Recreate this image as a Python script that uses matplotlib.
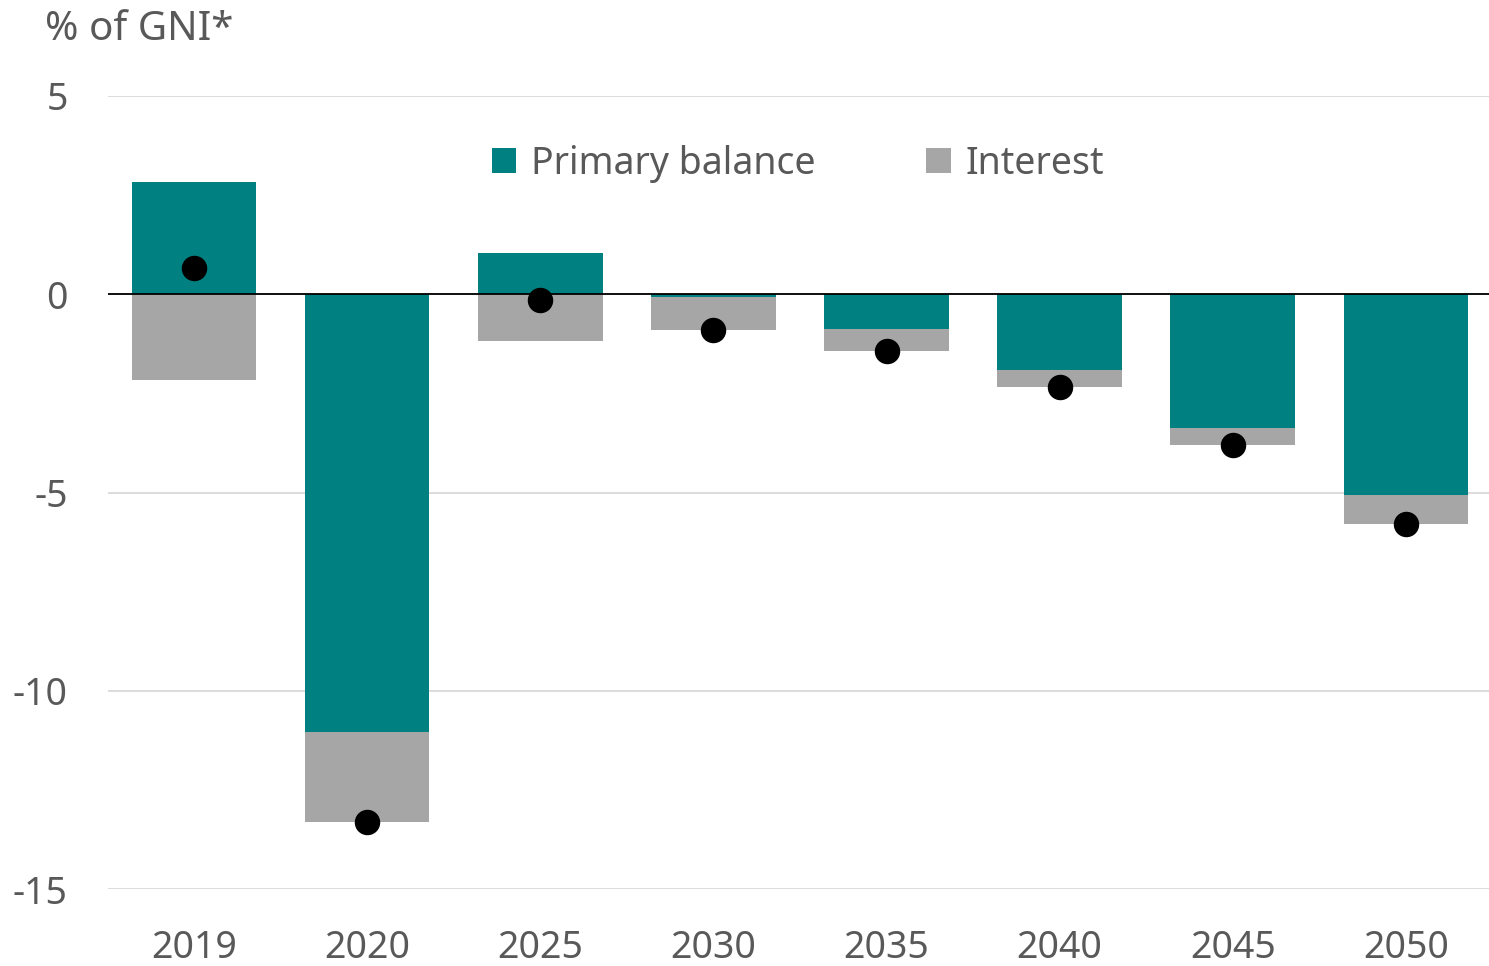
import matplotlib.pyplot as plt
import numpy as np

# values (% of GNI*)
years = ['2019', '2020', '2025', '2030', '2035', '2040', '2045', '2050']
primary_balance = [2.82, -11.03, 1.03, -0.08, -0.88, -1.91, -3.38, -5.06]
interest = [-2.17, -2.27, -1.18, -0.83, -0.56, -0.43, -0.42, -0.73]
overall_balance = [0.65, -13.30, -0.15, -0.91, -1.44, -2.34, -3.80, -5.79]

teal = '#008080'
grey = '#a6a6a6'
text_col = '#595959'

plt.rcParams['font.family'] = ['Noto Sans', 'DejaVu Sans']

fig = plt.figure(figsize=(14.89, 9.66), dpi=100)
ax = fig.add_axes([108 / 1489, 1 - 889 / 966, 1 - 108 / 1489, (889 - 96) / 966])

x = np.arange(len(years))
pb = np.array(primary_balance)
it = np.array(interest)
# interest stacks under the primary bar if it is negative, otherwise under zero
it_base = np.where(pb < 0, pb, 0)

ax.bar(x, pb, width=0.72, color=teal, label='Primary balance', zorder=2)
ax.bar(x, it, bottom=it_base, width=0.72, color=grey, label='Interest', zorder=2)
ax.scatter(x, overall_balance, s=300, color='black', zorder=4)

ax.axhline(0, color='black', linewidth=1.3, zorder=3)

ax.set_ylim(-15, 5)
ax.set_xlim(-0.497, 7.48)
ax.set_yticks([5, 0, -5, -10, -15])
ax.set_yticklabels(['5', '0', '-5', '-10', '-15'])
ax.set_xticks(x)
ax.set_xticklabels(years)
ax.grid(axis='y', color='#d9d9d9', linewidth=1.3, zorder=0)
ax.set_axisbelow(True)
for s in ax.spines.values():
    s.set_visible(False)
ax.tick_params(axis='both', length=0, labelsize=27, colors=text_col)
ax.tick_params(axis='y', pad=29)
ax.tick_params(axis='x', pad=29)

fig.text(45 / 1489, 1 - 30 / 966, '% of GNI*', fontsize=29, color=text_col,
         ha='left', va='center')

leg = ax.legend(loc='center', bbox_to_anchor=(798 / 1489, 1 - 164 / 966),
                bbox_transform=fig.transFigure, ncol=2, frameon=False,
                fontsize=27, handlelength=0.65, handleheight=0.65,
                handletextpad=0.4, columnspacing=2.95, borderaxespad=0)
for t in leg.get_texts():
    t.set_color(text_col)

plt.savefig('out.png', dpi=100)
